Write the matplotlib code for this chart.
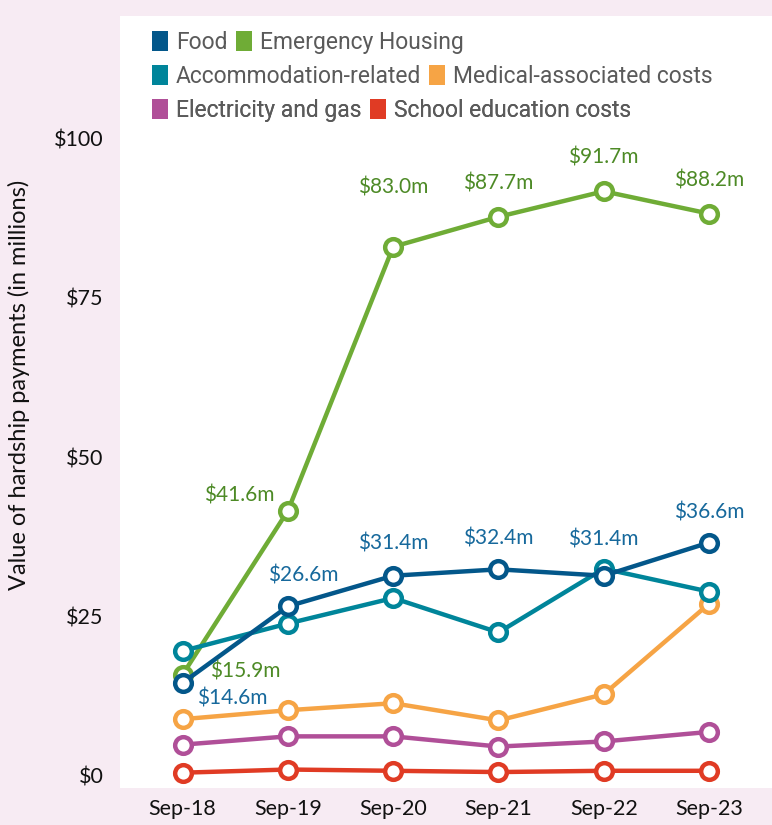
import matplotlib
matplotlib.use("Agg")
import matplotlib.pyplot as plt
from matplotlib.patches import Patch

# data (values in $ millions)
periods = ["Sep-18", "Sep-19", "Sep-20", "Sep-21", "Sep-22", "Sep-23"]
food = [14.6, 26.6, 31.4, 32.4, 31.4, 36.6]
emergency_housing = [15.9, 41.6, 83.0, 87.7, 91.7, 88.2]
accommodation = [19.6, 23.9, 27.9, 22.5, 32.5, 28.9]
medical = [8.9, 10.3, 11.4, 8.7, 12.8, 27.0]
electricity = [4.9, 6.2, 6.2, 4.6, 5.4, 6.9]
school = [0.5, 1.0, 0.8, 0.6, 0.8, 0.8]

y_ticks = [0, 25, 50, 75, 100]
y_ticklabels = ["$0", "$25", "$50", "$75", "$100"]

colors = {
    "Food": "#03578a",
    "Emergency Housing": "#6fac36",
    "Accommodation-related": "#00859a",
    "Medical-associated costs": "#f6a445",
    "Electricity and gas": "#b04f98",
    "School education costs": "#e03b24",
}
bg = "#f7ebf3"

plt.rcParams["font.family"] = ["Lato", "DejaVu Sans"]

fig = plt.figure(figsize=(7.72, 8.25), dpi=100, facecolor=bg)
ax = fig.add_axes([120 / 772, 37 / 825, 652 / 772, 772 / 825])
ax.set_facecolor("white")

x = list(range(len(periods)))

def draw(vals, name, z):
    ax.plot(x, vals, color=colors[name], lw=3.2, marker="o", ms=12,
            mfc="white", mec=colors[name], mew=3.2, zorder=z,
            solid_capstyle="round")

draw(school, "School education costs", 2)
draw(electricity, "Electricity and gas", 3)
draw(medical, "Medical-associated costs", 4)
draw(emergency_housing, "Emergency Housing", 5)
draw(accommodation, "Accommodation-related", 6)
draw(food, "Food", 7)

# value labels
green_txt = "#4d8a26"
blue_txt = "#17699c"
eh_off = [(45, 2), (-35, 11), (0, 43), (0, 24), (0, 24), (0, 24)]
food_off = [(36, -11), (11, 22), (0, 23), (0, 22), (0, 26), (0, 22)]
for i, v in enumerate(emergency_housing):
    ax.annotate(f"${v:.1f}m", (i, v), xytext=eh_off[i], textcoords="offset points",
                ha="center", va="center", color=green_txt, fontsize=15, zorder=10)
for i, v in enumerate(food):
    ax.annotate(f"${v:.1f}m", (i, v), xytext=food_off[i], textcoords="offset points",
                ha="center", va="center", color=blue_txt, fontsize=15, zorder=10)

ax.set_xlim(-0.595, 5.598)
ax.set_ylim(-1.9, 119.2)
ax.set_xticks(x)
ax.set_xticklabels(periods, fontsize=15.5, color="#111111")
ax.set_yticks(y_ticks)
ax.set_yticklabels(y_ticklabels, fontsize=15.5, color="#111111")
ax.tick_params(length=0)
ax.tick_params(axis="y", pad=12)
ax.tick_params(axis="x", pad=8)
for s in ax.spines.values():
    s.set_visible(False)

ax.set_ylabel("Value of hardship payments (in millions)", fontsize=17, color="#111111")
ax.yaxis.set_label_coords(-0.138, 0.522)

# legend laid out in three rows like the original
rows = [["Food", "Emergency Housing"],
        ["Accommodation-related", "Medical-associated costs"],
        ["Electricity and gas", "School education costs"]]
row_y = [0.966, 0.922, 0.878]
for names, yy in zip(rows, row_y):
    handles = [Patch(facecolor=colors[n], edgecolor="none") for n in names]
    leg = ax.legend(handles, names, loc="center left", bbox_to_anchor=(0.049, yy),
                    ncol=2, frameon=False, handlelength=0.7, handleheight=1.0,
                    handletextpad=0.35, columnspacing=0.35, borderaxespad=0,
                    borderpad=0, prop={"family": ["Roboto", "DejaVu Sans"], "size": 16.5})
    for t in leg.get_texts():
        t.set_color("#5a5a5a")
    ax.add_artist(leg)

fig.savefig("out.png", dpi=100, facecolor=bg)
